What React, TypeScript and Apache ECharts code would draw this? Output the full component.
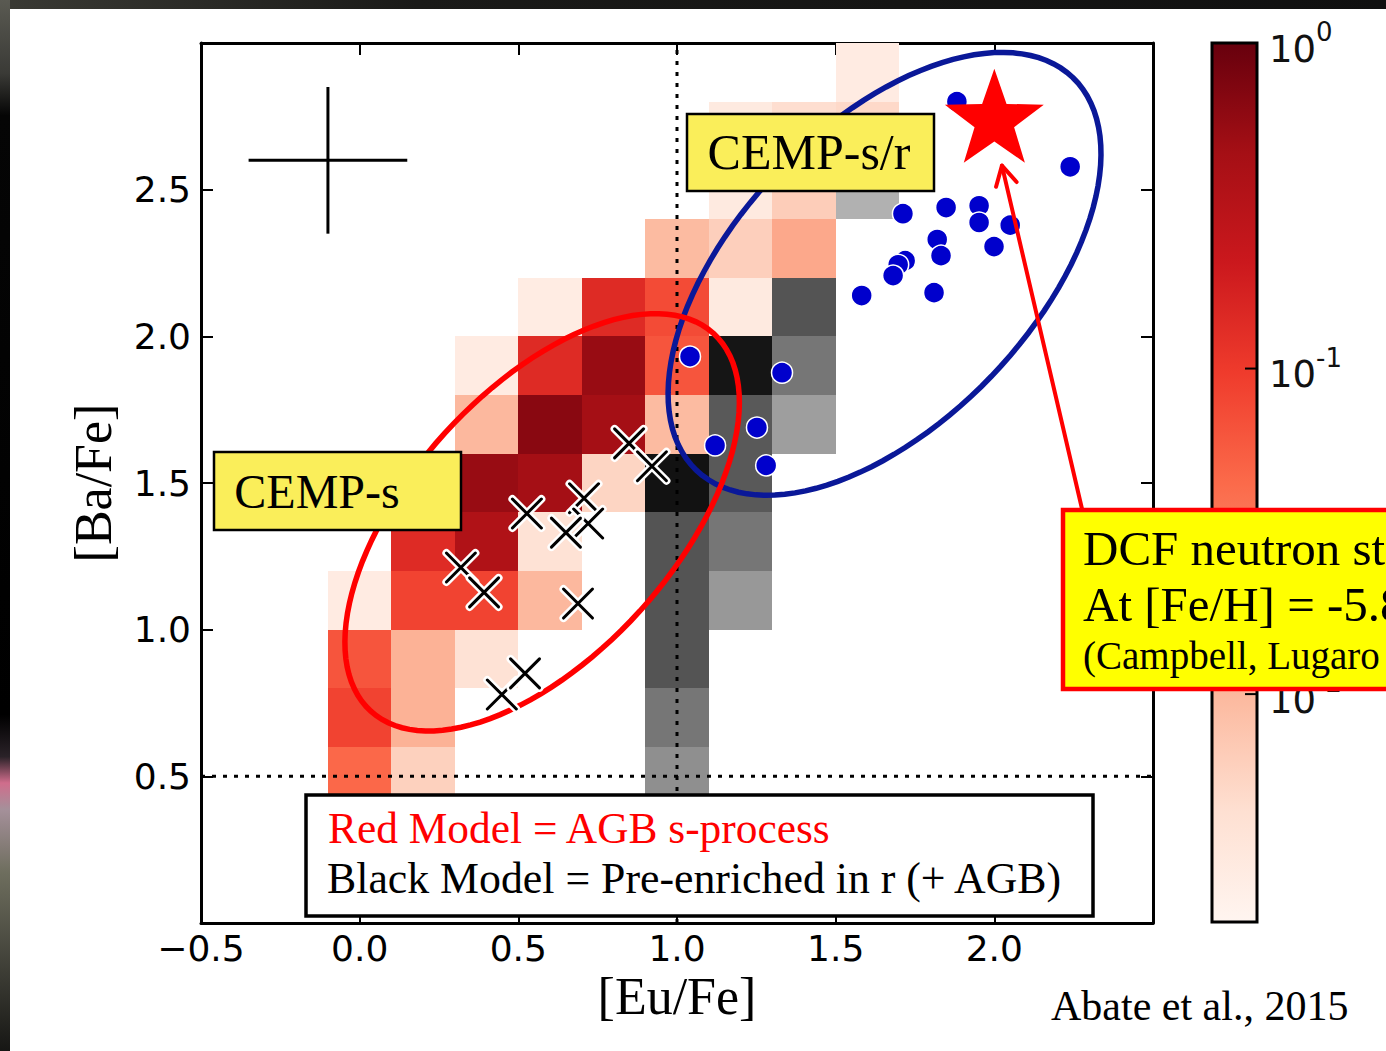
import React, { useEffect, useRef } from "react";
import * as echarts from "echarts";

const W = 1386;
const H = 1051;

// ---------- axes ----------
const xRange = [-0.5, 2.5];
const yRange = [0, 3];
const tickStep = 0.5;
const binSize = 0.2;

// ---------- 2D histograms: [ [Eu/Fe] bin centre, [Ba/Fe] bin centre, fraction ] ----------
const redCells = [
  [0.0, 1.1, 0.0029], [0.0, 0.9, 0.063], [0.0, 0.7, 0.085], [0.0, 0.5, 0.046],
  [0.2, 1.5, 0.2], [0.2, 1.3, 0.14], [0.2, 1.1, 0.085], [0.2, 0.9, 0.0113], [0.2, 0.7, 0.0113], [0.2, 0.5, 0.006],
  [0.4, 1.9, 0.0029], [0.4, 1.7, 0.01], [0.4, 1.5, 0.54], [0.4, 1.3, 0.37], [0.4, 1.1, 0.085], [0.4, 0.9, 0.004],
  [0.6, 2.1, 0.0028], [0.6, 1.9, 0.14], [0.6, 1.7, 0.65], [0.6, 1.5, 0.46], [0.6, 1.3, 0.004], [0.6, 1.1, 0.01],
  [0.8, 2.1, 0.14], [0.8, 1.9, 0.54], [0.8, 1.7, 0.46], [0.8, 1.5, 0.0055],
  [1.0, 2.3, 0.0095], [1.0, 2.1, 0.075], [1.0, 1.9, 0.063], [1.0, 1.7, 0.0095],
  [1.2, 2.7, 0.003], [1.2, 2.5, 0.003], [1.2, 2.3, 0.0062], [1.2, 2.1, 0.003],
  [1.4, 2.7, 0.0045], [1.4, 2.5, 0.0065], [1.4, 2.3, 0.0135],
  [1.6, 2.9, 0.0029], [1.6, 2.7, 0.005],
];

const greyCells = [
  [1.0, 1.5, 0.69], [1.0, 1.3, 0.2], [1.0, 1.1, 0.2], [1.0, 0.9, 0.2], [1.0, 0.7, 0.091], [1.0, 0.5, 0.052],
  [1.2, 1.9, 0.65], [1.2, 1.7, 0.18], [1.2, 1.5, 0.18], [1.2, 1.3, 0.091], [1.2, 1.1, 0.043],
  [1.4, 2.1, 0.2], [1.4, 1.9, 0.091], [1.4, 1.7, 0.038],
  [1.6, 2.5, 0.026],
];

// ---------- observed CEMP stars ----------
const srEu = [1.882, 2.239, 1.712, 1.848, 1.952, 1.952, 2.05, 1.82, 1.832, 1.999, 1.719, 1.697, 1.681, 1.582, 1.81, 1.041, 1.331, 1.252, 1.12, 1.281];
const srBa = [2.8, 2.578, 2.418, 2.439, 2.445, 2.388, 2.379, 2.33, 2.275, 2.306, 2.258, 2.244, 2.207, 2.139, 2.149, 1.931, 1.876, 1.689, 1.628, 1.56];

const sEu = [0.849, 0.921, 0.707, 0.72, 0.65, 0.527, 0.319, 0.392, 0.688, 0.448, 0.521];
const sBa = [1.635, 1.557, 1.448, 1.362, 1.331, 1.396, 1.212, 1.127, 1.089, 0.779, 0.851];

// DCF neutron star model
const dcfPoint = [2.0, 2.735];
const arrowFrom = [2.276, 1.413];
const arrowTo = [2.024, 2.582];

// typical error bar
const errCentre = [-0.1, 2.6];
const errHalf = [0.25, 0.25];

// reference lines
const refEu = 1.0;
const refBa = 0.5;

// region ellipses (centre in data units)
const sRegionCentre = [0.575, 1.366];
const srRegionCentre = [1.654, 2.213];

// colour bar (log scale)
const cbExponents = [0, -1, -2];
const cbMinExp = -2.7;

// ---------- colour maps ----------
const REDS = ["#fff5f0", "#fee0d2", "#fcbba1", "#fc9272", "#fb6a4a", "#ef3b2c", "#cb181d", "#a50f15", "#67000d"];
const GREYS = ["#ffffff", "#f0f0f0", "#d9d9d9", "#bdbdbd", "#969696", "#737373", "#525252", "#252525", "#000000"];

function hexToRgb(h: string) {
  const n = parseInt(h.slice(1), 16);
  return [(n >> 16) & 255, (n >> 8) & 255, n & 255];
}
function cmap(stops: string[], t: number) {
  t = Math.max(0, Math.min(1, t));
  const s = t * (stops.length - 1);
  const i = Math.min(stops.length - 2, Math.floor(s));
  const f = s - i;
  const a = hexToRgb(stops[i]);
  const b = hexToRgb(stops[i + 1]);
  const c = a.map((v, k) => Math.round(v + (b[k] - v) * f));
  return `rgb(${c[0]},${c[1]},${c[2]})`;
}
function lognorm(v: number) {
  return (Math.log10(v) - cbMinExp) / (0 - cbMinExp);
}

const SERIF = '"Liberation Serif", "Times New Roman", serif';
const SANS = '"DejaVu Sans", sans-serif';

function cellSeries(name: string, data: number[][], stops: string[], z: number) {
  return {
    type: "custom",
    name,
    silent: true,
    z,
    data,
    renderItem: (params: any, api: any) => {
      const x = api.value(0);
      const y = api.value(1);
      const v = api.value(2);
      const p0 = api.coord([x - binSize / 2, y + binSize / 2]);
      const p1 = api.coord([x + binSize / 2, y - binSize / 2]);
      const x0 = Math.round(p0[0]);
      const y0 = Math.round(p0[1]);
      return {
        type: "rect",
        shape: { x: x0, y: y0, width: Math.round(p1[0]) - x0, height: Math.round(p1[1]) - y0 },
        style: { fill: cmap(stops, lognorm(v)), stroke: null },
      };
    },
  };
}

function ellipseSeries(centre: number[], a: number, b: number, angleDeg: number, color: string, z: number) {
  return {
    type: "custom",
    silent: true,
    z,
    data: [centre],
    renderItem: (params: any, api: any) => {
      const c = api.coord([api.value(0), api.value(1)]);
      const th = (angleDeg * Math.PI) / 180;
      const pts: number[][] = [];
      const N = 120;
      for (let k = 0; k < N; k++) {
        const ph = (2 * Math.PI * k) / N;
        const ex = a * Math.cos(ph);
        const ey = b * Math.sin(ph);
        const rx = ex * Math.cos(th) - ey * Math.sin(th);
        const ry = ex * Math.sin(th) + ey * Math.cos(th);
        pts.push([c[0] + rx, c[1] - ry]);
      }
      return {
        type: "polygon",
        shape: { points: pts },
        style: { fill: "none", stroke: color, lineWidth: 5.5 },
      };
    },
  };
}

function buildOption() {
  const axisCommon = {
    type: "value",
    splitLine: { show: false },
    axisLine: { show: true, onZero: false, lineStyle: { color: "#000", width: 3 } },
    axisTick: { show: true, inside: true, length: 12, lineStyle: { color: "#000", width: 2 } },
  };

  const cbTop = 43;
  const cbBottom = 922;
  const cbLeft = 1212;
  const cbWidth = 45;
  const cbY = (e: number) => cbTop + ((0 - e) / (0 - cbMinExp)) * (cbBottom - cbTop);

  const cbLabels: any[] = [];
  cbExponents.forEach((e) => {
    const y = cbY(e);
    cbLabels.push({
      type: "text",
      z: 100,
      x: 1269,
      y: y + 6,
      style: { text: "10", fontSize: 37, fontFamily: SANS, fill: "#111", align: "left", verticalAlign: "middle", textAlign: "left", textVerticalAlign: "middle" },
    });
    cbLabels.push({
      type: "text",
      z: 100,
      x: 1316,
      y: y - 11,
      style: { text: e === 0 ? "0" : "-" + Math.abs(e), fontSize: 26, fontFamily: SANS, fill: "#111", align: "left", verticalAlign: "middle", textAlign: "left", textVerticalAlign: "middle" },
    });
    if (e !== 0) {
      cbLabels.push({
        type: "line",
        z: 101,
        shape: { x1: cbLeft + cbWidth - 12, y1: y, x2: cbLeft + cbWidth, y2: y },
        style: { stroke: "#000", lineWidth: 2 },
      });
    }
  });

  const txt = (text: string, x: number, y: number, size: number, fill: string, align: string, z: number) => ({
    type: "text",
    z,
    x,
    y,
    style: { text, fontSize: size, fontFamily: SERIF, fill, align, verticalAlign: "middle", textAlign: align, textVerticalAlign: "middle" },
  });

  const graphic: any[] = [
    // photo frame remnants
    {
      type: "rect",
      z: 120,
      shape: { x: 0, y: 0, width: W, height: 9 },
      style: {
        fill: { type: "linear", x: 0, y: 0, x2: 1, y2: 0, colorStops: [
          { offset: 0, color: "#3a3a34" }, { offset: 0.3, color: "#1a1a18" }, { offset: 1, color: "#101010" },
        ] },
      },
    },
    {
      type: "rect",
      z: 120,
      shape: { x: 0, y: 0, width: 10, height: H },
      style: {
        fill: { type: "linear", x: 0, y: 0, x2: 0, y2: 1, colorStops: [
          { offset: 0, color: "#5a5a52" }, { offset: 0.07, color: "#3a3a36" }, { offset: 0.11, color: "#050505" },
          { offset: 0.68, color: "#000000" }, { offset: 0.72, color: "#2a2228" }, { offset: 0.745, color: "#d06d8c" },
          { offset: 0.77, color: "#a5909a" }, { offset: 0.83, color: "#6e6e5e" }, { offset: 0.9, color: "#4a4a40" },
          { offset: 1, color: "#161614" },
        ] },
      },
    },
    // colour bar
    {
      type: "rect",
      z: 100,
      shape: { x: cbLeft, y: cbTop, width: cbWidth, height: cbBottom - cbTop },
      style: {
        fill: { type: "linear", x: 0, y: 1, x2: 0, y2: 0, colorStops: REDS.map((c, i) => ({ offset: i / (REDS.length - 1), color: c })) },
        stroke: "#000",
        lineWidth: 3,
      },
    },
    ...cbLabels,
    // CEMP-s/r label
    { type: "rect", z: 110, shape: { x: 687, y: 114, width: 247, height: 77 }, style: { fill: "#faee5a", stroke: "#000", lineWidth: 2.5 } },
    txt("CEMP-s/r", 809, 152, 50, "#000", "center", 111),
    // CEMP-s label
    { type: "rect", z: 110, shape: { x: 214, y: 452, width: 247, height: 78 }, style: { fill: "#faee5a", stroke: "#000", lineWidth: 2.5 } },
    txt("CEMP-s", 317, 491, 48, "#000", "center", 111),
    // model legend
    { type: "rect", z: 110, shape: { x: 306, y: 795, width: 787, height: 121 }, style: { fill: "#ffffff", stroke: "#000", lineWidth: 3.5 } },
    txt("Red Model = AGB s-process", 328, 828, 43.4, "#ff0000", "left", 111),
    txt("Black Model = Pre-enriched in r (+ AGB)", 327, 878, 43.8, "#000", "left", 111),
    // DCF annotation
    { type: "rect", z: 110, shape: { x: 1063, y: 510, width: 360, height: 179 }, style: { fill: "#ffff00", stroke: "#ff0000", lineWidth: 4.5 } },
    txt("DCF neutron star", 1083, 548, 49, "#000", "left", 111),
    txt("At [Fe/H] = -5.8", 1083, 604, 49, "#000", "left", 111),
    txt("(Campbell, Lugaro", 1083, 655, 39, "#000", "left", 111),
    // citation
    txt("Abate et al., 2015", 1051, 1006, 42, "#000", "left", 111),
  ];

  return {
    animation: false,
    backgroundColor: "#ffffff",
    grid: { left: 201, right: 233, top: 43, bottom: 128, containLabel: false, outerBoundsMode: "none" },
    xAxis: [
      {
        ...axisCommon,
        position: "bottom",
        min: xRange[0],
        max: xRange[1],
        interval: tickStep,
        name: "[Eu/Fe]",
        nameLocation: "middle",
        nameGap: 46,
        nameTextStyle: { fontFamily: SERIF, fontSize: 52, color: "#000" },
        axisLabel: {
          show: true,
          margin: 7,
          fontFamily: SANS,
          fontSize: 36,
          color: "#000",
          showMaxLabel: true,
          showMinLabel: true,
          formatter: (v: number) => (v >= xRange[1] ? "" : (v < 0 ? "\u2212" : "") + Math.abs(v).toFixed(1)),
        },
      },
      {
        ...axisCommon,
        position: "top",
        min: xRange[0],
        max: xRange[1],
        interval: tickStep,
        axisLabel: { show: false },
      },
    ],
    yAxis: [
      {
        ...axisCommon,
        position: "left",
        min: yRange[0],
        max: yRange[1],
        interval: tickStep,
        name: "[Ba/Fe]",
        nameLocation: "middle",
        nameGap: 82,
        nameRotate: 90,
        nameTextStyle: { fontFamily: SERIF, fontSize: 52, color: "#000" },
        axisLabel: {
          show: true,
          margin: 10,
          fontFamily: SANS,
          fontSize: 36,
          color: "#000",
          formatter: (v: number) => (v <= yRange[0] || v >= yRange[1] ? "" : v.toFixed(1)),
        },
      },
      {
        ...axisCommon,
        position: "right",
        min: yRange[0],
        max: yRange[1],
        interval: tickStep,
        axisLabel: { show: false },
      },
    ],
    graphic,
    series: [
      cellSeries("AGB s-process model", redCells, REDS, 1),
      cellSeries("pre-enriched r model", greyCells, GREYS, 1),
      {
        type: "custom",
        silent: true,
        z: 3,
        data: [[refEu, refBa]],
        renderItem: (params: any, api: any) => {
          const vx = api.value(0);
          const vy = api.value(1);
          const a = api.coord([vx, yRange[0]]);
          const b = api.coord([vx, yRange[1]]);
          const c = api.coord([xRange[0], vy]);
          const d = api.coord([xRange[1], vy]);
          const st = { stroke: "#000", lineWidth: 3, lineDash: [4, 7] };
          return {
            type: "group",
            children: [
              { type: "line", shape: { x1: a[0], y1: a[1], x2: b[0], y2: b[1] }, style: st },
              { type: "line", shape: { x1: c[0], y1: c[1], x2: d[0], y2: d[1] }, style: st },
            ],
          };
        },
      },
      {
        type: "custom",
        silent: true,
        z: 3,
        data: [[errCentre[0], errCentre[1], errHalf[0], errHalf[1]]],
        renderItem: (params: any, api: any) => {
          const x = api.value(0), y = api.value(1), ex = api.value(2), ey = api.value(3);
          const l = api.coord([x - ex, y]), r = api.coord([x + ex, y]);
          const t = api.coord([x, y + ey]), b = api.coord([x, y - ey]);
          const st = { stroke: "#000", lineWidth: 3 };
          return {
            type: "group",
            children: [
              { type: "line", shape: { x1: l[0], y1: l[1], x2: r[0], y2: r[1] }, style: st },
              { type: "line", shape: { x1: t[0], y1: t[1], x2: b[0], y2: b[1] }, style: st },
            ],
          };
        },
      },
      ellipseSeries(srRegionCentre, 272, 148, 46.2, "#0a1898", 4),
      ellipseSeries(sRegionCentre, 255, 132, 47.8, "#ff0000", 4),
      {
        type: "scatter",
        name: "CEMP-s/r",
        silent: true,
        z: 6,
        symbol: "circle",
        symbolSize: 21,
        itemStyle: { color: "#0000cc", borderColor: "#ffffff", borderWidth: 1.5, opacity: 1 },
        data: srEu.map((x, i) => [x, srBa[i]]),
      },
      {
        type: "custom",
        name: "CEMP-s",
        silent: true,
        z: 6,
        data: sEu.map((x, i) => [x, sBa[i]]),
        renderItem: (params: any, api: any) => {
          const p = api.coord([api.value(0), api.value(1)]);
          const h = 14.5;
          const mk = (stroke: string, lw: number) => [
            { type: "line", shape: { x1: p[0] - h, y1: p[1] - h, x2: p[0] + h, y2: p[1] + h }, style: { stroke, lineWidth: lw, lineCap: "round" } },
            { type: "line", shape: { x1: p[0] - h, y1: p[1] + h, x2: p[0] + h, y2: p[1] - h }, style: { stroke, lineWidth: lw, lineCap: "round" } },
          ];
          return { type: "group", children: [...mk("#ffffff", 8), ...mk("#000000", 3)] };
        },
      },
      {
        type: "custom",
        name: "DCF",
        silent: true,
        z: 7,
        data: [dcfPoint],
        renderItem: (params: any, api: any) => {
          const c = api.coord([api.value(0), api.value(1)]);
          const R = 52;
          const r = R * 0.4;
          const pts: number[][] = [];
          for (let k = 0; k < 10; k++) {
            const ang = -Math.PI / 2 + (k * Math.PI) / 5;
            const rr = k % 2 === 0 ? R : r;
            pts.push([c[0] + rr * Math.cos(ang), c[1] + rr * Math.sin(ang)]);
          }
          return { type: "polygon", shape: { points: pts }, style: { fill: "#ff0000", stroke: null } };
        },
      },
      {
        type: "custom",
        silent: true,
        z: 7,
        data: [[arrowFrom[0], arrowFrom[1], arrowTo[0], arrowTo[1]]],
        renderItem: (params: any, api: any) => {
          const a = api.coord([api.value(0), api.value(1)]);
          const b = api.coord([api.value(2), api.value(3)]);
          const ang = Math.atan2(a[1] - b[1], a[0] - b[0]);
          const L = 22;
          const spread = 0.5;
          const w1 = [b[0] + L * Math.cos(ang + spread), b[1] + L * Math.sin(ang + spread)];
          const w2 = [b[0] + L * Math.cos(ang - spread), b[1] + L * Math.sin(ang - spread)];
          const st = { stroke: "#ff0000", lineWidth: 4, lineCap: "round", lineJoin: "round", fill: "none" };
          return {
            type: "group",
            children: [
              { type: "line", shape: { x1: a[0], y1: a[1], x2: b[0], y2: b[1] }, style: st },
              { type: "polyline", shape: { points: [w1, b, w2] }, style: st },
            ],
          };
        },
      },
    ],
  };
}

export default function App() {
  const ref = useRef<HTMLDivElement | null>(null);
  useEffect(() => {
    if (!ref.current) return;
    const chart = echarts.init(ref.current, undefined, { renderer: "svg", width: W, height: H });
    chart.setOption(buildOption() as any);
    return () => {
      chart.dispose();
    };
  }, []);
  return (
    <div
      ref={ref}
      style={{ position: "fixed", left: 0, top: 0, width: W, height: H, overflow: "hidden", background: "#fff" }}
    />
  );
}
